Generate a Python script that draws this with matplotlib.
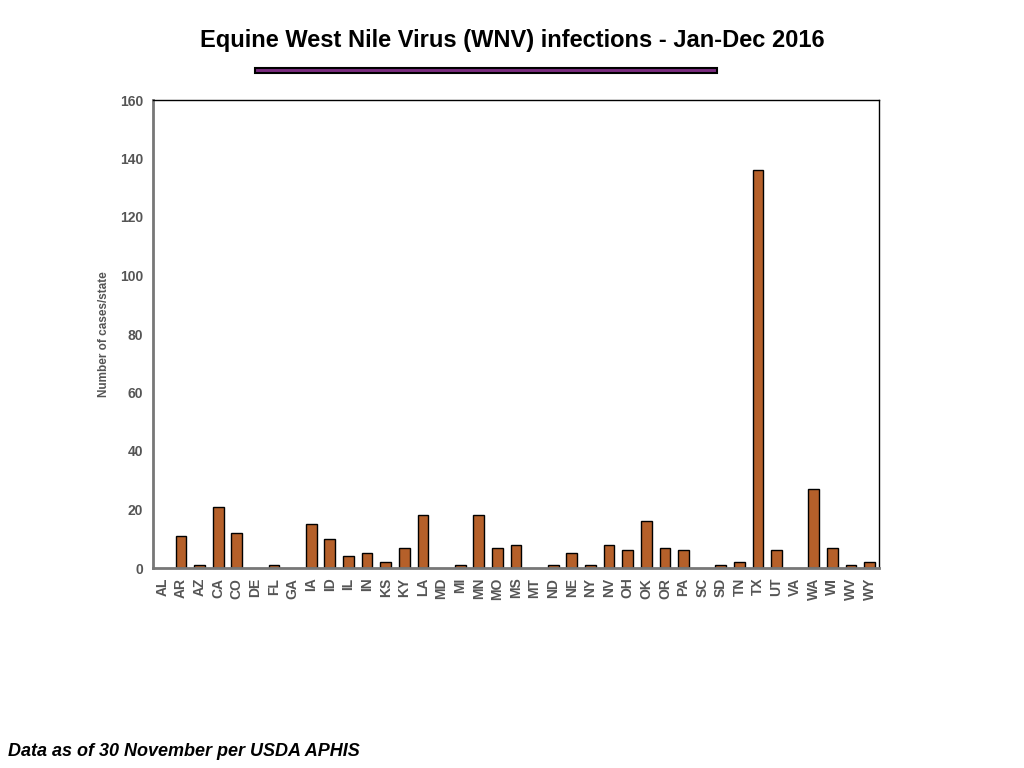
import matplotlib
matplotlib.use("Agg")
import matplotlib.pyplot as plt
from matplotlib.patches import Rectangle

states = ["AL","AR","AZ","CA","CO","DE","FL","GA","IA","ID","IL","IN","KS","KY","LA","MD","MI","MN","MO","MS",
          "MT","ND","NE","NY","NV","OH","OK","OR","PA","SC","SD","TN","TX","UT","VA","WA","WI","WV","WY"]
cases = [0,11,1,21,12,0,1,0,15,10,4,5,2,7,18,0,1,18,7,8,
         0,1,5,1,8,6,16,7,6,0,1,2,136,6,0,27,7,1,2]
yticks = [0,20,40,60,80,100,120,140,160]

plt.rcParams['font.family'] = ['Liberation Sans', 'DejaVu Sans']

fig = plt.figure(figsize=(10.24, 7.68), dpi=100)
ax = fig.add_axes([153/1024, 1-568/768, 726/1024, 468/768])

x = list(range(len(states)))
lws = [1.0 if v > 0 else 0 for v in cases]
ax.bar(x, cases, width=0.58, color="#B5602A", edgecolor="black", linewidth=lws, zorder=3)
ax.set_xlim(-0.5, len(states)-0.5)
ax.set_ylim(0, 160)
ax.set_yticks(yticks)
ax.set_yticklabels([str(v) for v in yticks], fontsize=10, fontweight="bold", color="#555555")
ax.set_xticks(x)
ax.set_xticklabels(states, rotation=90, fontsize=10, fontweight="bold", color="#555555")
ax.tick_params(axis="both", length=0, pad=7)
ax.set_ylabel("Number of cases/state", fontsize=8.5, fontweight="bold", color="#555555")
ax.yaxis.set_label_coords(-43/726, 0.5)

for s in ["left", "bottom"]:
    ax.spines[s].set_color("#777777")
    ax.spines[s].set_linewidth(2)
for s in ["top", "right"]:
    ax.spines[s].set_color("black")
    ax.spines[s].set_linewidth(1)
ax.spines["bottom"].set_zorder(4)

fig.text(0.5, 1-40/768, "Equine West Nile Virus (WNV) infections - Jan-Dec 2016",
         ha="center", va="center", fontsize=17, fontweight="bold", color="black")
fig.patches.append(Rectangle((255/1024, 1-73/768), (717-255)/1024, 5/768,
                             transform=fig.transFigure, facecolor="#7B2C7F",
                             edgecolor="black", linewidth=1.5))
fig.text(8/1024, 1-752/768, "Data as of 30 November per USDA APHIS",
         ha="left", va="center", fontsize=13, fontweight="bold", fontstyle="italic", color="black")

fig.savefig("out.png", dpi=100)
